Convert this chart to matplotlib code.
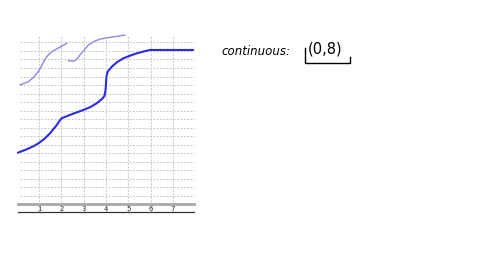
import matplotlib
matplotlib.use("Agg")
import matplotlib.pyplot as plt

# curve points (x in grid units, y in grid rows above the axis)
main_x = [0.05, 0.44, 0.75, 1.01, 1.25, 1.49, 1.75, 2.0, 2.5, 2.98, 3.3, 3.58, 3.8,
          3.93, 3.98, 4.0, 4.02, 4.08, 4.26, 4.5, 4.78, 5.08, 5.38, 5.7, 5.97, 7.91]
main_y = [6.04, 6.43, 6.8, 7.21, 7.7, 8.32, 9.15, 10.08, 10.6, 11.06, 11.4, 11.85, 12.3,
          12.7, 13.4, 14.2, 15.0, 15.6, 16.15, 16.7, 17.14, 17.45, 17.73, 17.95, 18.12, 18.12]

left_x = [0.14, 0.52, 0.75, 0.96, 1.1, 1.26, 1.4, 1.56, 1.9, 2.24]
left_y = [14.0, 14.39, 14.9, 15.56, 16.2, 17.02, 17.5, 17.92, 18.4, 18.9]

right_x = [2.31, 2.57, 2.7, 2.83, 3.0, 3.21, 3.45, 3.73, 4.3, 4.85]
right_y = [16.86, 16.8, 17.05, 17.53, 18.05, 18.7, 19.1, 19.4, 19.65, 19.88]

ticks = [1, 2, 3, 4, 5, 6, 7]
rows = list(range(1, 20))

W, H = 480, 270
fig = plt.figure(figsize=(4.8, 2.7), dpi=100)
fig.patch.set_facecolor("white")

# axes placed so one grid unit is ~22.3 px wide and ~8.5 px tall
ax = fig.add_axes([10 / W, (H - 220) / H, 190 / W, 190 / H])
ax.set_xlim(-0.305, 8.215)
ax.set_ylim(-1.88, 20.47)
ax.axis("off")

grid_kw = dict(color="#c8c8c8", linewidth=0.7, linestyle=(0, (2, 1.5)), zorder=1)
for r in rows:
    ax.plot([0.14, 7.95], [r, r], **grid_kw)
for t in ticks:
    ax.plot([t, t], [-0.94, 19.9], **grid_kw)

ax.plot([0.05, 7.95], [0, 0], color="#a8a8a8", linewidth=2.0, zorder=2)
ax.plot([0.05, 7.95], [-0.94, -0.94], color="#333333", linewidth=0.9, zorder=2)
for t in ticks:
    ax.text(t, -0.9, str(t), ha="center", va="bottom", fontsize=5, color="#333333")

ax.plot(main_x, main_y, color="#2b2be6", linewidth=1.5, solid_capstyle="round", zorder=3)
ax.plot(left_x, left_y, color="#8c88e6", linewidth=1.0, solid_capstyle="round", zorder=3)
ax.plot(right_x, right_y, color="#8c88e6", linewidth=1.0, solid_capstyle="round", zorder=3)

# handwritten note on the right
fig.text(221 / W, 1 - 55 / H, "continuous:", fontsize=8.5, color="black",
         ha="left", va="baseline", fontstyle="italic")
fig.text(308 / W, 1 - 54 / H, "(0,8)", fontsize=10.5, color="black",
         ha="left", va="baseline")
fig.add_artist(plt.Line2D([305 / W, 305 / W, 350 / W, 350 / W],
                          [1 - 48 / H, 1 - 63 / H, 1 - 63 / H, 1 - 57 / H],
                          color="black", linewidth=1.0))

fig.savefig("out.png", dpi=100, facecolor="white")
